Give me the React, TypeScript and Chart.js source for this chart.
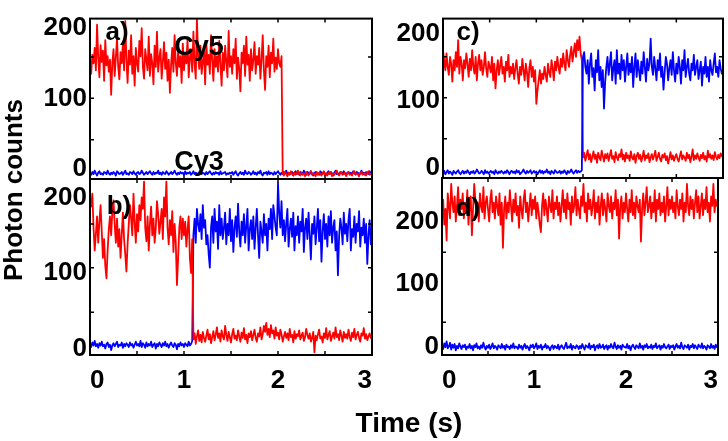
import React, { useEffect, useRef } from "react";
import { Chart, registerables } from "chart.js";

Chart.register(...registerables);

// Sampling grid (s)
const TIME: number[] = Array.from({ length: 241 }, (_, i) => +(i * 0.0125).toFixed(4));
const X_TICKS = [0, 1, 2, 3];
const Y_TICKS = [0, 100, 200];
const X_MARKS = [0.5, 1, 1.5, 2, 2.5];

// Panel a)
const RED_A = [
  148, 135, 162, 150, 172, 140, 205, 158, 130, 176, 152, 168, 125, 183, 147, 160, 138, 155, 105, 150,
  170, 132, 158, 185, 145, 127, 166, 150, 178, 140, 210, 155, 122, 168, 148, 190, 135, 160, 118, 172,
  150, 138, 182, 160, 200, 145, 128, 170, 155, 140, 188, 132, 163, 150, 120, 175, 145, 195, 138, 158,
  170, 128, 152, 180, 142, 165, 125, 155, 108, 148, 172, 138, 190, 150, 132, 168, 145, 160, 122, 178,
  140, 165, 150, 185, 130, 158, 170, 138, 195, 150, 128, 213, 160, 142, 175, 135, 152, 168, 120, 180,
  148, 162, 135, 190, 155, 125, 170, 145, 160, 138, 182, 150, 118, 165, 140, 175, 152, 130, 196, 145,
  160, 135, 170, 150, 185, 128, 158, 142, 110, 165, 150, 175, 132, 188, 148, 162, 125, 170, 140, 155,
  180, 135, 160, 148, 172, 128, 155, 190, 140, 112, 160, 145, 175, 130, 165, 150, 185, 138, 158, 142,
  170, 150, 145, 160, -7, -10, -5, -8, -11, -6, -9, -4, -8, -10, -6, -9, -7, -3, -8, -10,
  -6, -9, -7, -11, -5, -8, -10, -6, -4, -9, -7, -8, -11, -5, -9, -6, -8, -10, -7, -4,
  -9, -7, -10, -6, -8, -5, -11, -7, -9, -6, -3, -8, -10, -7, -5, -9, -8, -6, -11, -7,
  -5, -9, -8, -10, -6, -4, -9, -7, -8, -11, -6, -5, -9, -8, -7, -10, -6, -4, -9, -8,
  -7,
];
const BLUE_A = [
  -6, -9, -5, -8, -3, -7, -10, -6, -4, -8, -7, -9, -5, -6, -8, -3, -7, -9, -6, -8,
  -5, -7, -10, -4, -6, -8, -7, -5, -9, -6, -3, -8, -7, -9, -5, -6, -8, -4, -7, -9,
  -6, -5, -8, -7, -3, -6, -9, -7, -5, -8, -6, -4, -7, -9, -5, -8, -6, -7, -3, -8,
  -6, -9, -5, -7, -8, -4, -6, -9, -7, -5, -8, -6, -3, -7, -9, -6, -8, -5, -7, -6,
  -9, -4, -8, -6, -7, -5, -9, -7, -4, -8, -6, -7, -9, -5, -3, -8, -6, -7, -9, -5,
  -8, -6, -4, -7, -9, -6, -8, -5, -7, -6, -9, -4, -8, -7, -6, -5, -9, -7, -8, -6,
  -7, -5, -9, -6, -4, -8, -10, -7, -5, -8, -6, -9, -3, -7, -8, -5, -6, -9, -7, -4,
  -8, -6, -9, -5, -7, -3, -8, -10, -6, -7, -5, -9, -4, -8, -6, -7, -9, -5, -8, -6,
  -4, -7, -9, -6, -8, -5, -7, -3, -9, -6, -8, -7, -5, -10, -6, -4, -8, -7, -9, -5,
  -6, -8, -3, -7, -9, -5, -6, -8, -4, -7, -10, -6, -5, -8, -7, -9, -4, -6, -8, -5,
  -7, -9, -6, -4, -8, -5, -7, -10, -6, -3, -8, -7, -9, -5, -6, -8, -4, -7, -9, -6,
  -5, -8, -6, -9, -4, -7, -8, -5, -6, -10, -7, -3, -8, -6, -9, -5, -7, -8, -4, -6,
  -7,
];

// Panel b)
const RED_B = [
  200, 188, 205, 160, 130, 152, 175, 140, 168, 190, 155, 120, 145, 110, 93, 130, 158, 175, 150, 182,
  196, 165, 140, 172, 135, 158, 120, 150, 180, 145, 125, 102, 138, 165, 190, 172, 150, 205, 168, 140,
  178, 155, 190, 170, 200, 185, 221, 160, 142, 175, 130, 165, 188, 150, 172, 140, 160, 195, 178, 152,
  168, 185, 145, 200, 175, 221, 160, 138, 170, 150, 182, 128, 165, 140, 84, 120, 160, 175, 145, 172,
  150, 168, 135, 158, 175, 120, 100, 145, 12, 20, 6, 16, 24, 10, 18, 8, 22, 14, 9, 17,
  25, 12, 19, 7, 15, 23, 11, 18, 28, 14, 20, 9, 24, 16, 12, 30, 18, 10, 22, 15,
  8, 19, 26, 13, 17, 11, 24, 16, 9, 21, 14, 27, 12, 18, 7, 20, 15, 23, 11, 18,
  25, 14, 9, 20, 16, 28, 12, 19, 30, 22, 34, 18, 26, 15, 31, 20, 24, 13, 28, 17,
  21, 12, 25, 19, 9, 16, 22, 14, 20, 11, 26, 15, 18, 8, 23, 13, 19, 16, 24, 12,
  17, 21, 10, 15, 26, 18, 13, 20, 9, 14, 22, -5, 17, 11, 19, 25, 13, 16, 8, 20,
  14, 27, 12, 18, 23, 10, 16, 21, 13, 28, 15, 19, 11, 24, 17, 9, 22, 14, 19, 13,
  25, 16, 10, 21, 15, 26, 12, 18, 22, 14, 9, 20, 17, 27, 13, 19, 11, 16, 20, 14,
  17,
];
const BLUE_B = [
  5, 2, 8, 4, 10, 3, 6, 1, 7, 4, 9, 3, 5, 0, 6, 8, 2, 5, -2, 4,
  7, 3, 6, 9, 2, 5, 4, 8, 1, 6, 3, 7, 5, 2, 8, 4, 6, 1, 5, 9,
  4, 6, 3, 10, 2, 7, 5, 1, 8, 3, 6, 4, 9, 2, 5, 7, 0, 6, 3, 8,
  5, 2, 7, 4, 9, 3, 6, 1, 5, 8, 4, 2, 7, 5, -1, 6, 3, 8, 4, 6,
  2, 7, 5, 3, 9, 4, 6, 10, 150, 172, 140, 185, 165, 155, 178, 145, 190, 160, 170, 138,
  150, 125, 107, 160, 175, 140, 185, 155, 168, 132, 190, 150, 172, 145, 160, 180, 138, 165, 150, 185,
  142, 170, 128, 160, 175, 148, 192, 155, 135, 168, 150, 178, 140, 162, 185, 130, 158, 170, 145, 175,
  132, 160, 185, 150, 120, 168, 155, 140, 178, 150, 165, 130, 172, 158, 185, 145, 190, 175, 160, 150,
  219, 180, 160, 195, 150, 170, 142, 165, 185, 135, 158, 172, 148, 180, 130, 162, 150, 175, 140, 168,
  155, 185, 128, 160, 172, 145, 180, 150, 118, 165, 152, 175, 138, 160, 185, 142, 170, 115, 155, 178,
  145, 165, 135, 175, 150, 182, 140, 160, 170, 130, 155, 97, 148, 172, 160, 138, 180, 152, 165, 142,
  170, 185, 130, 158, 148, 175, 140, 165, 155, 182, 135, 160, 150, 172, 140, 165, 112, 150, 170, 138,
  155,
];

// Panel c)
const RED_C = [
  175, 160, 145, 170, 150, 138, 165, 155, 128, 160, 145, 172, 150, 190, 140, 165, 155, 130, 160, 148,
  170, 155, 135, 162, 145, 175, 150, 140, 165, 130, 155, 168, 145, 160, 138, 150, 172, 148, 135, 158,
  150, 142, 165, 130, 155, 118, 145, 160, 138, 152, 165, 140, 150, 128, 158, 145, 168, 135, 150, 140,
  155, 132, 148, 160, 140, 125, 150, 138, 162, 145, 130, 155, 142, 120, 148, 160, 135, 150, 128, 145,
  95, 115, 130, 145, 125, 140, 132, 150, 138, 128, 155, 142, 135, 160, 148, 130, 158, 145, 165, 150,
  140, 162, 150, 170, 155, 145, 175, 160, 150, 168, 180, 158, 172, 185, 165, 190, 175, 195, 170, 160,
  15, 22, 10, 18, 26, 12, 20, 8, 16, 24, 13, 19, 7, 22, 15, 11, 25, 17, 9, 20,
  14, 21, 10, 18, 26, 13, 17, 8, 23, 15, 11, 20, 16, 27, 12, 19, 9, 22, 14, 18,
  10, 24, 15, 12, 20, 7, 17, 22, 13, 19, 9, 16, 25, 11, 18, 14, 21, 8, 15, 20,
  12, 18, 25, 10, 16, 22, 13, 9, 19, 15, 21, 11, 17, 6, 14, 23, 12, 18, 10, 16,
  20, 13, 9, 17, 24, 12, 18, 15, 10, 22, 14, 19, 8, 16, 27, 11, 18, 13, 21, 15,
  10, 19, 14, 22, 12, 17, 9, 25, 15, 20, 13, 18, 11, 23, 16, 12, 19, 14, 21, 17,
  15,
];
const BLUE_C = [
  -8, -5, -10, -7, -4, -9, -6, -8, -11, -5, -7, -9, -6, -4, -8, -10, -7, -5, -9, -6,
  -8, -4, -7, -10, -6, -8, -5, -9, -7, -3, -6, -9, -8, -5, -7, -10, -4, -8, -6, -9,
  -7, -5, -8, -6, -10, -4, -7, -9, -6, -8, -5, -7, -9, -6, -8, -4, -7, -10, -6, -5,
  -8, -6, -9, -4, -7, -5, -10, -8, -6, -3, -7, -9, -5, -8, -6, -4, -9, -7, -5, -8,
  -6, -10, -7, -4, -8, -5, -9, -6, -7, -3, -8, -6, -10, -5, -7, -9, -4, -6, -8, -7,
  -5, -9, -6, -8, -4, -7, -10, -5, -8, -6, -3, -7, -9, -6, -4, -8, -5, -7, -6, -4,
  165, 172, 150, 140, 160, 125, 155, 170, 135, 148, 115, 160, 142, 175, 130, 150, 120, 145, 88, 128,
  150, 165, 138, 155, 172, 130, 148, 160, 125, 175, 140, 155, 132, 168, 145, 160, 128, 150, 170, 138,
  155, 142, 165, 120, 150, 170, 135, 160, 145, 130, 158, 140, 172, 150, 128, 162, 145, 155, 192, 150,
  138, 165, 148, 130, 160, 145, 170, 135, 150, 116, 142, 165, 155, 130, 148, 160, 138, 172, 145, 128,
  155, 140, 165, 150, 125, 160, 145, 175, 135, 150, 162, 140, 130, 155, 145, 168, 138, 150, 160, 132,
  145, 158, 122, 150, 140, 165, 135, 150, 128, 160, 145, 138, 155, 170, 142, 150, 135, 160, 148, 140,
  145,
];

// Panel d)
const RED_D = [
  210, 235, 195, 220, 170, 245, 225, 205, 260, 230, 215, 240, 200, 225, 255, 210, 235, 220, 245, 205,
  230, 215, 250, 195, 225, 240, 178, 220, 260, 235, 210, 230, 200, 245, 225, 215, 255, 205, 230, 240,
  220, 200, 235, 250, 215, 230, 205, 240, 225, 210, 245, 195, 230, 158, 220, 240, 205, 230, 215, 250,
  225, 200, 235, 215, 245, 210, 225, 190, 240, 220, 205, 235, 250, 215, 230, 200, 225, 245, 210, 235,
  220, 240, 205, 230, 215, 195, 183, 225, 245, 210, 235, 220, 200, 240, 225, 215, 250, 205, 230, 220,
  240, 210, 230, 200, 225, 250, 215, 235, 205, 245, 220, 230, 195, 240, 215, 225, 255, 210, 235, 220,
  205, 240, 225, 260, 215, 230, 200, 245, 220, 235, 210, 225, 250, 205, 230, 215, 240, 195, 225, 245,
  210, 235, 220, 200, 245, 225, 215, 240, 205, 230, 220, 250, 210, 235, 173, 225, 240, 205, 230, 215,
  245, 220, 200, 235, 215, 250, 210, 230, 205, 240, 225, 215, 235, 168, 220, 245, 210, 230, 255, 215,
  225, 240, 205, 230, 215, 250, 200, 235, 220, 245, 210, 230, 215, 240, 200, 225, 255, 210, 235, 220,
  240, 215, 230, 205, 250, 225, 210, 235, 220, 245, 200, 230, 215, 260, 225, 210, 240, 220, 235, 205,
  230, 250, 215, 240, 205, 225, 245, 210, 235, 220, 255, 215, 230, 200, 240, 225, 260, 215, 235, 225,
  230,
];
const BLUE_D = [
  2, -4, 5, -1, 8, -3, 0, 6, -5, 3, -2, 4, -6, 1, -3, 5, 0, -4, 2, -1,
  3, -5, 0, -2, 4, -3, 1, -6, 2, -1, 5, -3, 0, -4, 2, -2, 6, -1, -5, 1,
  -2, 3, -4, 0, 5, -3, 1, -1, -5, 2, 0, -3, 4, -2, 1, -5, 3, -1, 0, -4,
  2, -2, 5, -3, 0, -1, -4, 3, -2, 1, -5, 0, 4, -3, 1, -2, -6, 2, -1, 3,
  -3, 0, 5, -4, 1, -2, 3, -5, 0, -1, 4, -3, 1, -2, -6, 0, 2, -4, 1, -1,
  -3, 3, -5, 0, 2, -2, -4, 1, 6, -3, 0, -2, 4, -5, 1, -1, -3, 2, 0, -4,
  1, -3, 4, -1, -5, 2, 0, -2, 5, -4, 1, -1, 3, -6, 0, 2, -3, 4, -2, -1,
  3, -4, 0, 2, -5, 1, -2, 4, -1, -3, 6, 0, -4, 2, -2, 1, -5, 3, 0, -1,
  -2, 4, -3, 1, -6, 0, 3, -1, -4, 2, 0, -3, 5, -2, 1, -5, 2, -1, 4, -3,
  0, -2, 3, -4, 1, -1, 5, -3, 0, 2, -5, 1, -2, 4, -1, -3, 0, 3, -4, 1,
  -1, 2, -5, 0, 4, -2, 1, -3, 6, -1, -4, 2, 0, -2, 3, -5, 1, -1, 4, -3,
  2, -1, -4, 3, 0, -2, 5, -3, 1, -1, -5, 2, 0, -3, 4, -2, 1, -4, 3, -1,
  0,
];

const RED = "#ff0000";
const BLUE = "#0000ff";
const FONT = "'Liberation Sans', Arial, Helvetica, sans-serif";

type PanelCfg = {
  red: number[];
  blue: number[];
  blueOnTop: boolean;
  yMin: number;
  yMax: number;
  yMarks: number[];
  showX: boolean;
  area: { left: number; right: number; top: number; bottom: number };
};

const W = 728;
const H = 441;
const Y_AXIS_W = 90;
const X_AXIS_H = 50;

const PANELS: PanelCfg[] = [
  { red: RED_A, blue: BLUE_A, blueOnTop: false, yMin: -15, yMax: 213.7, yMarks: [41, 100, 159], showX: false, area: { left: 90, right: 372, top: 3, bottom: 179 } },
  { red: RED_C, blue: BLUE_C, blueOnTop: true, yMin: -15.6, yMax: 222, yMarks: [43, 104, 165], showX: false, area: { left: 443, right: 723, top: 3, bottom: 178 } },
  { red: RED_B, blue: BLUE_B, blueOnTop: false, yMin: -8.6, yMax: 224.5, yMarks: [48, 107, 165], showX: true, area: { left: 90, right: 372, top: 179, bottom: 355 } },
  { red: RED_D, blue: BLUE_D, blueOnTop: false, yMin: -13.6, yMax: 269.6, yMarks: [39, 151], showX: true, area: { left: 442, right: 723, top: 178, bottom: 355 } },
];

const framePlugin = {
  id: "frame",
  afterDatasetsDraw(chart: any, _args: any, opts: any) {
    const { ctx, chartArea: a, scales } = chart;
    ctx.save();
    ctx.strokeStyle = "#000";
    ctx.lineWidth = 1.5;
    const L = 4;
    ctx.beginPath();
    for (const v of opts.xMarks || []) {
      const px = scales.x.getPixelForValue(v);
      ctx.moveTo(px, a.bottom);
      ctx.lineTo(px, a.bottom - L);
      ctx.moveTo(px, a.top);
      ctx.lineTo(px, a.top + L);
    }
    for (const v of opts.yMarks || []) {
      const py = scales.y.getPixelForValue(v);
      ctx.moveTo(a.left, py);
      ctx.lineTo(a.left + L, py);
      ctx.moveTo(a.right, py);
      ctx.lineTo(a.right - L, py);
    }
    ctx.stroke();
    ctx.lineWidth = 2;
    ctx.strokeRect(a.left, a.top, a.right - a.left, a.bottom - a.top);
    ctx.restore();
  },
};

function Panel({ cfg }: { cfg: PanelCfg }) {
  const ref = useRef<HTMLCanvasElement>(null);
  useEffect(() => {
    const toPts = (vals: number[]) => TIME.map((t, i) => ({ x: t, y: vals[i] }));
    const mk = (vals: number[], color: string) => ({
      data: toPts(vals),
      borderColor: color,
      borderWidth: 1.8,
      pointRadius: 0,
      tension: 0,
      borderJoinStyle: "round" as const,
    });
    const redDs = mk(cfg.red, RED);
    const blueDs = mk(cfg.blue, BLUE);
    const datasets = cfg.blueOnTop ? [blueDs, redDs] : [redDs, blueDs];
    const a = cfg.area;
    const chart = new Chart(ref.current as HTMLCanvasElement, {
      type: "line",
      data: { datasets },
      plugins: [framePlugin],
      options: {
        animation: false,
        responsive: false,
        maintainAspectRatio: false,
        events: [],
        layout: {
          padding: {
            left: a.left - Y_AXIS_W,
            right: W - a.right,
            top: a.top,
            bottom: H - a.bottom - (cfg.showX ? X_AXIS_H : 0),
          },
        },
        plugins: {
          legend: { display: false },
          tooltip: { enabled: false },
          // @ts-ignore
          frame: { xMarks: X_MARKS, yMarks: cfg.yMarks },
        },
        scales: {
          x: {
            type: "linear",
            min: 0,
            max: 3,
            display: cfg.showX,
            grid: { display: false, drawTicks: false },
            border: { display: false },
            afterBuildTicks: (s: any) => {
              s.ticks = X_TICKS.map((v) => ({ value: v }));
            },
            afterFit: (s: any) => {
              s.height = cfg.showX ? X_AXIS_H : 0;
            },
            ticks: {
              color: "#000",
              padding: 10,
              align: "inner",
              maxRotation: 0,
              autoSkip: false,
              font: { family: FONT, size: 26, weight: "bold" },
            },
          },
          y: {
            type: "linear",
            min: cfg.yMin,
            max: cfg.yMax,
            grid: { display: false, drawTicks: false },
            border: { display: false },
            afterBuildTicks: (s: any) => {
              s.ticks = Y_TICKS.map((v) => ({ value: v }));
            },
            afterFit: (s: any) => {
              s.width = Y_AXIS_W;
            },
            ticks: {
              color: "#000",
              padding: 3,
              autoSkip: false,
              font: { family: FONT, size: 26, weight: "bold" },
            },
          },
        },
      },
    } as any);
    return () => chart.destroy();
  }, [cfg]);
  return (
    <canvas
      ref={ref}
      width={W}
      height={H}
      style={{ position: "absolute", left: 0, top: 0, width: W, height: H }}
    />
  );
}

const labelStyle = (x: number, y: number, size: number): React.CSSProperties => ({
  position: "absolute",
  left: x,
  top: y,
  transform: "translate(-50%, -50%)",
  fontFamily: FONT,
  fontWeight: "bold",
  fontSize: size,
  lineHeight: 1,
  color: "#000",
  whiteSpace: "nowrap",
});

export default function App() {
  return (
    <div
      style={{
        position: "fixed",
        left: 0,
        top: 0,
        width: W,
        height: H,
        background: "#fff",
        overflow: "hidden",
      }}
    >
      {PANELS.map((p, i) => (
        <Panel key={i} cfg={p} />
      ))}
      <div style={labelStyle(117, 31, 26)}>a)</div>
      <div style={labelStyle(119, 205, 26)}>b)</div>
      <div style={labelStyle(468, 31, 26)}>c)</div>
      <div style={labelStyle(468, 207, 26)}>d)</div>
      <div style={labelStyle(199, 46, 27)}>Cy5</div>
      <div style={labelStyle(199, 161, 27)}>Cy3</div>
      <div style={{ ...labelStyle(13, 190, 26), transform: "translate(-50%, -50%) rotate(-90deg)" }}>
        Photon counts
      </div>
      <div style={labelStyle(409, 423, 28)}>Time (s)</div>
    </div>
  );
}
